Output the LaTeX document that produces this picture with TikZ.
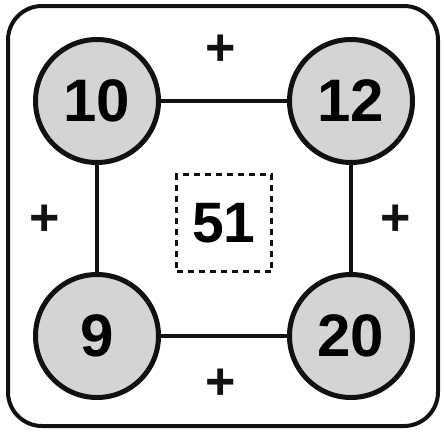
\documentclass[tikz,border=0pt]{standalone}
\usepackage{fontspec}
\setmainfont{Liberation Sans}
\usepackage{xcolor}
\usepackage{tikz}
\usetikzlibrary{positioning}
\definecolor{qink}{HTML}{111111}
\definecolor{qfill}{HTML}{D4D4D4}

\tikzset{
  numnode/.style={circle,draw=qink,fill=qfill,line width=5pt,minimum size=123pt,inner sep=0pt,
    font=\fontsize{60}{60}\selectfont\bfseries},
  plusnode/.style={font=\fontsize{52}{52}\selectfont\bfseries,text=qink,inner sep=0pt},
  sumbox/.style={draw=qink,line width=3.5pt,dash pattern=on 6pt off 5pt,minimum width=95pt,minimum height=97pt,
    inner sep=0pt,font=\fontsize{57}{57}\selectfont\bfseries},
  link/.style={draw=qink,line width=4.5pt}
}

\begin{document}
\begin{tikzpicture}[x=1pt,y=-1pt]
  \useasboundingbox (0,0) rectangle (444,432);
  \draw[qink,line width=4pt,rounded corners=34pt] (8,6) rectangle (438,426);
  \node[numnode] (tl) at (97,101)  {10};
  \node[numnode] (tr) at (351,101) {12};
  \node[numnode] (bl) at (97,336)  {9};
  \node[numnode] (br) at (351,336) {20};
  \draw[link] (tl) -- (tr);
  \draw[link] (tr) -- (br);
  \draw[link] (br) -- (bl);
  \draw[link] (bl) -- (tl);
  \node[sumbox] (sum) at (224,223) {51};
  \node[plusnode] (ptop)   at (221,50)  {+};
  \node[plusnode] (pbot)   at (221,384) {+};
  \node[plusnode] (pleft)  at (45,220)  {+};
  \node[plusnode] (pright) at (396,220) {+};
\end{tikzpicture}
\end{document}
